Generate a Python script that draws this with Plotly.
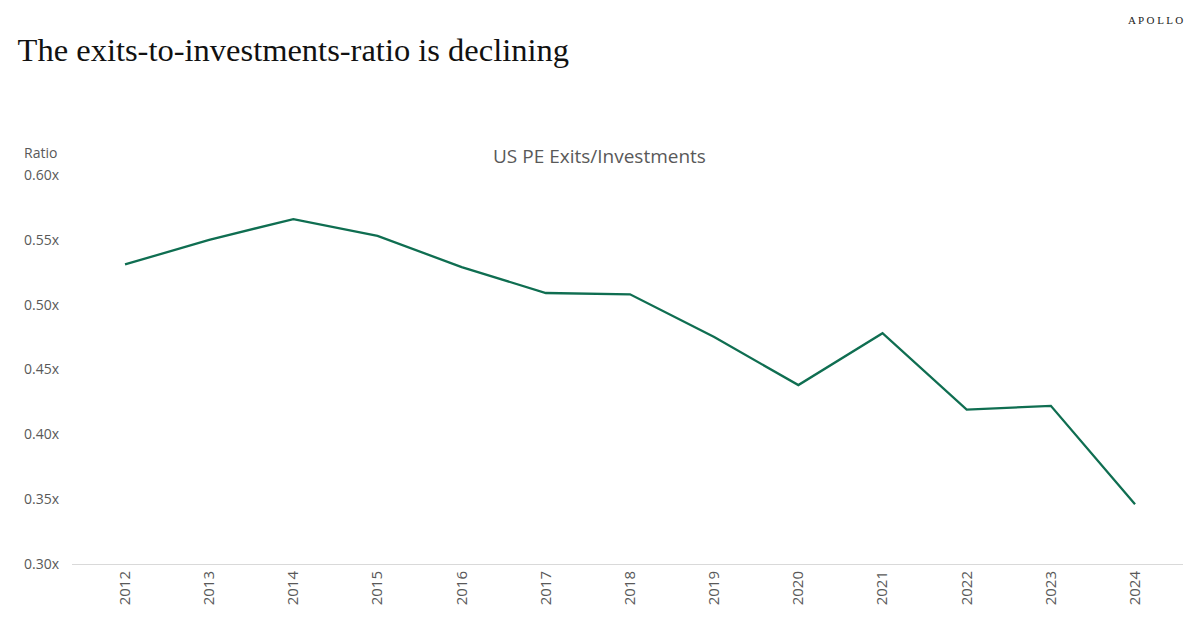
import plotly.graph_objects as go

years = [str(y) for y in range(2012, 2025)]
ratio = [0.531, 0.550, 0.566, 0.553, 0.529, 0.509, 0.508,
         0.475, 0.438, 0.478, 0.419, 0.422, 0.346]
y_ticks = [0.30, 0.35, 0.40, 0.45, 0.50, 0.55, 0.60]
y_labels = ["%.2fx" % v for v in y_ticks]

fig = go.Figure()

fig.add_trace(
    go.Scatter(x=years, y=ratio, mode='lines',
               line=dict(color='#0f6e51', width=2.3), showlegend=False)
)

# logo, chart caption and axis label (paper coords reach outside the plot area)
fig.add_annotation(text="A P O L L O",
                   xref='paper', yref='paper', x=1.002, y=1.398,
                   xanchor='right', yanchor='middle', showarrow=False,
                   font=dict(family="Liberation Serif", size=11, color='#222222'))
fig.add_annotation(text="US PE Exits/Investments",
                   xref='paper', yref='paper', x=0.475, y=1.049,
                   xanchor='center', yanchor='middle', showarrow=False,
                   font=dict(family="Open Sans", size=19, color='#595959'))
fig.add_annotation(text="Ratio",
                   xref='paper', yref='paper', x=-0.045, y=1.057,
                   xanchor='left', yanchor='middle', showarrow=False,
                   font=dict(family="Open Sans", size=14, color='#595959'))

fig.update_layout(
    title=dict(text="The exits-to-investments-ratio is declining",
               xref='container', yref='container', x=0.008, y=0.952,
               xanchor='left', yanchor='top',
               font=dict(family="Liberation Serif", size=32.5, color='#111111')),
    width=1199,
    height=636,
    margin=dict(t=167, b=80, l=64, r=24),
    plot_bgcolor='white',
    paper_bgcolor='white',
    font=dict(family="Open Sans", size=15, color='#595959'),
)

fig.update_xaxes(type='category', range=[-0.63, 12.57], showgrid=False,
                 showline=True, linecolor='#d9d9d9', linewidth=1,
                 tickangle=-90, ticks='', zeroline=False)
fig.update_yaxes(range=[0.30, 0.60], tickvals=y_ticks, ticktext=y_labels,
                 tickfont=dict(size=14), ticklabelstandoff=12,
                 showgrid=False, zeroline=False, showline=False, ticks='')

fig.write_html("out.html")
